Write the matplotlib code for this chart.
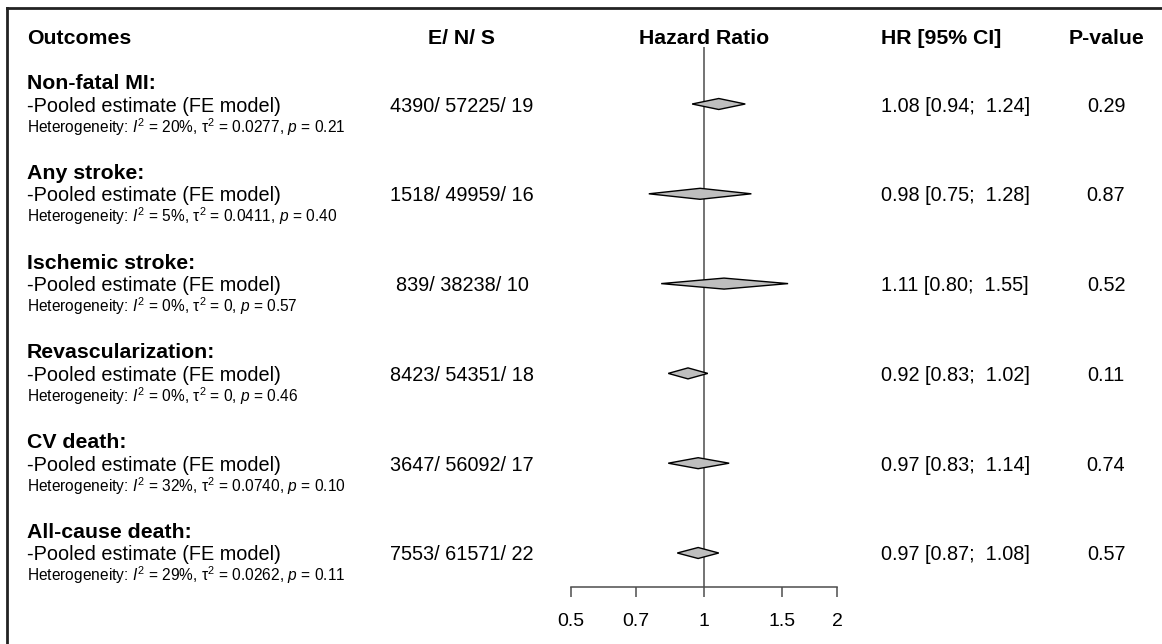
import numpy as np
import matplotlib.pyplot as plt
from matplotlib import transforms
from matplotlib.lines import Line2D
from matplotlib.patches import Polygon
from matplotlib.ticker import NullLocator

plt.rcParams['font.family'] = ['Liberation Sans', 'DejaVu Sans']
plt.rcParams['mathtext.fontset'] = 'custom'
plt.rcParams['mathtext.rm'] = 'Liberation Sans'
plt.rcParams['mathtext.it'] = 'Liberation Sans:italic'

outcomes = ['Non-fatal MI:', 'Any stroke:', 'Ischemic stroke:', 'Revascularization:',
            'CV death:', 'All-cause death:']
events = [4390, 1518, 839, 8423, 3647, 7553]
patients = [57225, 49959, 38238, 54351, 56092, 61571]
studies = [19, 16, 10, 18, 17, 22]
hr = [1.08, 0.98, 1.11, 0.92, 0.97, 0.97]
ci_low = [0.94, 0.75, 0.80, 0.83, 0.83, 0.87]
ci_high = [1.24, 1.28, 1.55, 1.02, 1.14, 1.08]
pvals = ['0.29', '0.87', '0.52', '0.11', '0.74', '0.57']
i2 = [20, 5, 0, 0, 32, 29]
tau2 = ['0.0277', '0.0411', '0', '0', '0.0740', '0.0262']
p_het = ['0.21', '0.40', '0.57', '0.46', '0.10', '0.11']
ticks = [0.5, 0.7, 1, 1.5, 2]
tick_labels = ['0.5', '0.7', '1', '1.5', '2']

W, H = 1162, 644
fig = plt.figure(figsize=(W / 100, H / 100), dpi=100)

# forest panel, y in pixel rows (top = 47, axis line = 587)
ax = fig.add_axes([571 / W, 1 - 587 / H, 266 / W, (587 - 47) / H])
ax.set_xscale('log')
ax.set_xlim(0.5, 2)
ax.set_ylim(587, 47)
row_y = 104 + 89.8 * np.arange(len(outcomes))

line_col = '#4d4d4d'
ax.axvline(1, color=line_col, lw=1.1, zorder=1)
for y, m, lo, hi in zip(row_y, hr, ci_low, ci_high):
    d = Polygon([(lo, y), (m, y - 5.5), (hi, y), (m, y + 5.5)], closed=True,
                facecolor='#bebebe', edgecolor='black', lw=1.0, zorder=3)
    ax.add_patch(d)

for s in ['top', 'left', 'right']:
    ax.spines[s].set_visible(False)
ax.spines['bottom'].set_color(line_col)
ax.spines['bottom'].set_linewidth(1.1)
ax.set_yticks([])
ax.set_xticks(ticks)
ax.set_xticklabels(tick_labels)
ax.xaxis.set_minor_locator(NullLocator())
ax.tick_params(axis='x', length=7.5, width=1.1, color=line_col, labelsize=14, pad=11)

# text columns: x in figure pixels, y in the same pixel rows
tr = transforms.blended_transform_factory(
    transforms.Affine2D().scale(1 / W, 1) + fig.transFigure, ax.transData)

def txt(x, y, s, **kw):
    fig.text(x, y, s, transform=tr, va='baseline', clip_on=False, **kw)

hy = 44
hs = 15.3
bs = 14.3
txt(27, hy, 'Outcomes', fontsize=hs, fontweight='bold')
txt(462, hy, 'E/ N/ S', fontsize=hs, fontweight='bold', ha='center')
txt(704, hy, 'Hazard Ratio', fontsize=hs, fontweight='bold', ha='center')
txt(881, hy, 'HR [95% CI]', fontsize=hs, fontweight='bold')
txt(1106, hy, 'P-value', fontsize=hs, fontweight='bold', ha='center')

for i, y in enumerate(row_y):
    txt(27, y - 15, outcomes[i], fontsize=hs, fontweight='bold')
    txt(27, y + 7.5, '-Pooled estimate (FE model)', fontsize=bs)
    het = (r'Heterogeneity: $\mathit{I}^2$ = %d%%, $\mathrm{\tau}^2$ = %s, $\mathit{p}$ = %s'
           % (i2[i], tau2[i], p_het[i]))
    txt(27, y + 28.5, het, fontsize=11.2)
    txt(462, y + 7.5, '%d/ %d/ %d' % (events[i], patients[i], studies[i]),
        fontsize=bs, ha='center')
    txt(881, y + 7.5, '%.2f [%.2f;  %.2f]' % (hr[i], ci_low[i], ci_high[i]), fontsize=bs)
    txt(1106, y + 7.5, pvals[i], fontsize=bs, ha='center')

# frame (cut off at right and bottom)
fig.add_artist(Line2D([7 / W, 7 / W], [0, 1 - 8 / H], color='#222222', lw=2))
fig.add_artist(Line2D([7 / W, 1], [1 - 8 / H, 1 - 8 / H], color='#222222', lw=2))

fig.savefig('out.png', dpi=100)
